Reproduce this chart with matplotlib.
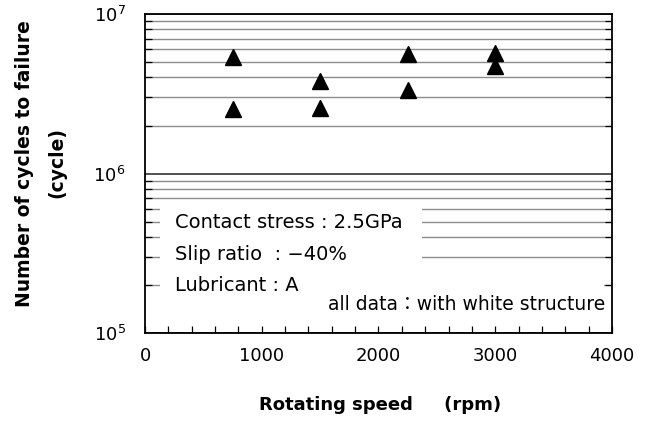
import matplotlib
matplotlib.use("Agg")
import matplotlib.pyplot as plt
from matplotlib.patches import Rectangle
from matplotlib.ticker import LogLocator, FixedLocator, NullFormatter

plt.rcParams['font.family'] = ['DejaVu Sans', 'Noto Sans CJK JP']

speed = [750, 750, 1500, 1500, 2250, 2250, 3000, 3000]
cycles = [5.4e6, 2.54e6, 3.78e6, 2.57e6, 5.59e6, 3.36e6, 5.68e6, 4.73e6]
xticks_major = [0, 1000, 2000, 3000, 4000]
conditions = ["Contact stress : 2.5GPa", "Slip ratio  : \u221240%", "Lubricant : A"]
note = "all data\uff1awith white structure"

W, H = 648, 421
fig = plt.figure(figsize=(6.48, 4.21), dpi=100)
ax = fig.add_axes([0.2238, 0.209, 0.7206, 0.7577])

ax.set_yscale("log")
ax.set_ylim(1e5, 1e7)
ax.set_xlim(0, 4000)

ax.yaxis.set_major_locator(LogLocator(base=10, numticks=5))
ax.yaxis.set_minor_locator(LogLocator(base=10, subs=range(2, 10), numticks=20))
ax.yaxis.set_minor_formatter(NullFormatter())
ax.grid(True, which="minor", axis="y", color="#8c8c8c", lw=1.0)
ax.grid(True, which="major", axis="y", color="#333333", lw=1.2)
ax.set_axisbelow(True)

ax.set_xticks(xticks_major)
ax.xaxis.set_minor_locator(FixedLocator(range(0, 4001, 200)))
ax.tick_params(axis="x", which="both", direction="in", length=5, width=0.9,
               top=False, labelsize=13, pad=10)
ax.tick_params(axis="y", which="both", direction="in", length=5, width=0.9,
               right=True, labelsize=13, pad=14)
ax.tick_params(axis="y", which="major", length=0)

for s in ax.spines.values():
    s.set_linewidth(1.3)
    s.set_color("black")

ax.plot(speed, cycles, linestyle="none", marker="^", markersize=11,
        color="black", zorder=5)

ax.add_patch(Rectangle((0.032, 0.10), 0.561, 0.31, transform=ax.transAxes,
                       facecolor="white", edgecolor="none", zorder=3))
ax.add_patch(Rectangle((0.379, 0.06), 0.603, 0.14, transform=ax.transAxes,
                       facecolor="white", edgecolor="none", zorder=3))

ys = [0.345, 0.245, 0.15]
for t, y in zip(conditions, ys):
    ax.text(0.064, y, t, transform=ax.transAxes, fontsize=14,
            va="center", ha="left", zorder=4)
ax.text(0.985, 0.09, note, transform=ax.transAxes, fontsize=13.5,
        va="center", ha="right", zorder=4)

fig.text(380 / W, 1 - 405 / H, "Rotating speed     (rpm)", fontsize=13,
         fontweight="bold", ha="center", va="center")
fig.text(25 / W, 1 - 164 / H, "Number of cycles to failure", fontsize=13.5,
         fontweight="bold", rotation=90, ha="center", va="center")
fig.text(57 / W, 1 - 163 / H, "(cycle)", fontsize=13.5,
         fontweight="bold", rotation=90, ha="center", va="center")

fig.savefig("out.png", dpi=100)
